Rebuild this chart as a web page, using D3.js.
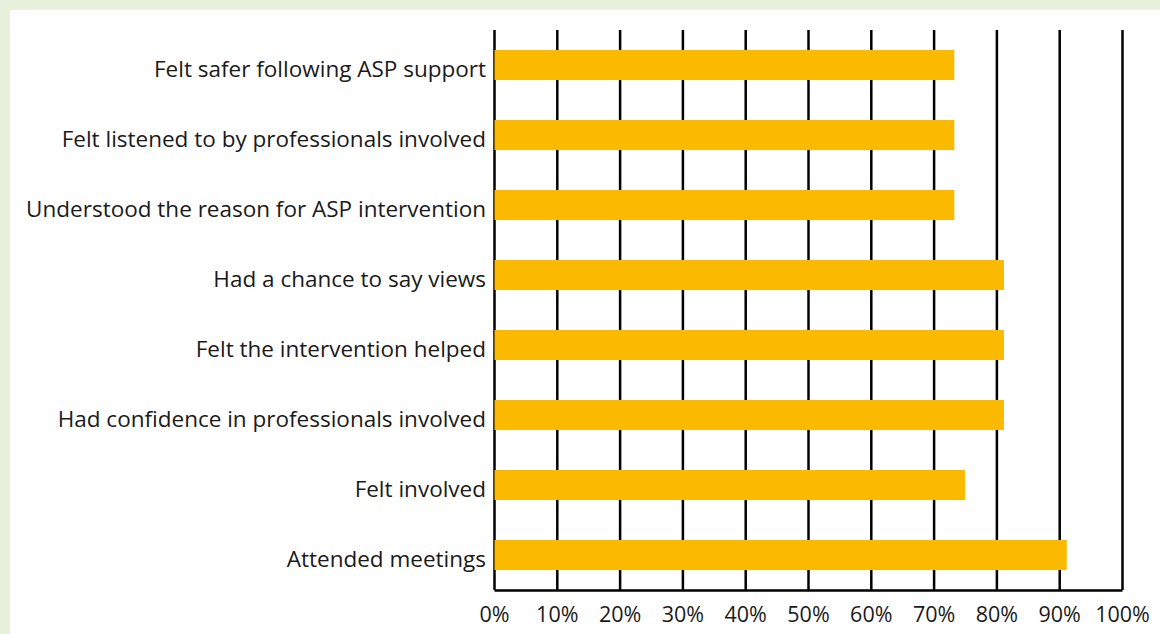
<!DOCTYPE html>
<html>
<head>
<meta charset="utf-8">
<script src="https://cdn.jsdelivr.net/npm/d3@7/dist/d3.min.js"></script>
<style>
  html, body { margin: 0; padding: 0; background: #e8f1dc; }
  svg { display: block; }
  text { font-family: "Open Sans", Lato, sans-serif; fill: #1a1a1a; }
</style>
</head>
<body>
<svg id="chart" width="1160" height="634"></svg>
<script>
// Survey responses: share of respondents agreeing with each statement
const categories = [
  "Felt safer following ASP support",
  "Felt listened to by professionals involved",
  "Understood the reason for ASP intervention",
  "Had a chance to say views",
  "Felt the intervention helped",
  "Had confidence in professionals involved",
  "Felt involved",
  "Attended meetings"
];
const values = [73.3, 73.3, 73.3, 81.2, 81.2, 81.2, 75.0, 91.2];
const tickValues = [0, 10, 20, 30, 40, 50, 60, 70, 80, 90, 100];
const tickLabels = ["0%", "10%", "20%", "30%", "40%", "50%", "60%", "70%", "80%", "90%", "100%"];

const svg = d3.select("#chart");

// white panel
svg.append("rect")
  .attr("x", 10).attr("y", 10)
  .attr("width", 1150).attr("height", 624)
  .attr("fill", "#ffffff");

const plot = { left: 494, right: 1122, top: 30, bottom: 590 };

const x = d3.scaleLinear().domain([0, 100]).range([plot.left, plot.right]);
const y = d3.scaleBand()
  .domain(categories)
  .range([plot.top, plot.bottom])
  .paddingInner(4 / 7)
  .paddingOuter(2 / 7);

// vertical gridlines + bottom axis
const xAxis = d3.axisBottom(x)
  .tickValues(tickValues)
  .tickFormat((d, i) => tickLabels[i])
  .tickSizeInner(-(plot.bottom - plot.top))
  .tickSizeOuter(0);

const gx = svg.append("g")
  .attr("transform", `translate(0,${plot.bottom})`)
  .call(xAxis);

gx.select(".domain").attr("stroke", "#000").attr("stroke-width", 2.5);
gx.selectAll(".tick line").attr("stroke", "#000").attr("stroke-width", 2.5);
gx.selectAll(".tick text")
  .attr("y", 24)
  .attr("dy", "0.35em")
  .attr("font-size", 21.5)
  .style("font-family", "'Open Sans', Lato, sans-serif")
  .attr("fill", "#1a1a1a");

// bars
svg.append("g")
  .selectAll("rect")
  .data(categories)
  .join("rect")
  .attr("x", x(0) + 0.5)
  .attr("y", d => y(d))
  .attr("width", (d, i) => x(values[i]) - x(0) - 0.5)
  .attr("height", y.bandwidth())
  .attr("fill", "#fbba00");

// category labels
svg.append("g")
  .selectAll("text")
  .data(categories)
  .join("text")
  .attr("x", plot.left - 8)
  .attr("y", d => y(d) + y.bandwidth() / 2)
  .attr("dy", "0.52em")
  .attr("text-anchor", "end")
  .attr("font-size", 22.5)
  .text(d => d);
</script>
</body>
</html>
